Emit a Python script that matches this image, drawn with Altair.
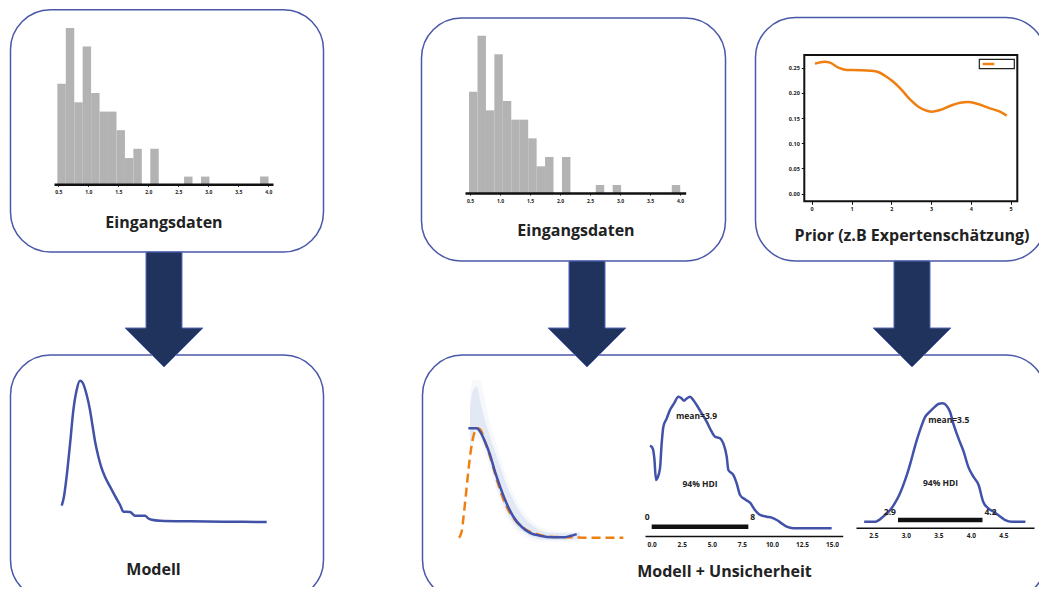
import altair as alt
import pandas as pd

# ---------------- data ----------------
# histogram of the input data (same data in both "Eingangsdaten" boxes)
hist_bin_start = [0.484, 0.625, 0.766, 0.906, 1.047, 1.188, 1.329, 1.470, 1.610, 1.751, 2.033, 2.596, 2.878, 3.863]
hist_counts = [11, 17, 9, 15, 10, 8, 8, 6, 3, 4, 4, 1, 1, 1]
hist_bin_width = 0.1408
hist_ticks = [0.5, 1.0, 1.5, 2.0, 2.5, 3.0, 3.5, 4.0]

# prior curve
prior_x = [0.08, 0.33, 0.46, 0.67, 0.88, 1.21, 1.46, 1.67, 1.84, 2.05, 2.26, 2.47, 2.68, 2.89, 3.02,
           3.22, 3.47, 3.73, 3.93, 4.15, 4.48, 4.73, 4.90]
prior_y = [0.258, 0.262, 0.260, 0.250, 0.2455, 0.245, 0.244, 0.2415, 0.234, 0.222, 0.206, 0.187,
           0.1726, 0.1647, 0.1627, 0.166, 0.174, 0.1806, 0.182, 0.1786, 0.1694, 0.1627, 0.1548]
prior_xticks = [0, 1, 2, 3, 4, 5]
prior_yticks = [0.00, 0.05, 0.10, 0.15, 0.20, 0.25]

# model curve (left bottom)
model_x = [0.0, 0.11, 0.24, 0.41, 0.57, 0.73, 0.89, 1.02, 1.22, 1.38, 1.51, 1.63, 1.79, 1.95, 2.11,
           2.36, 2.60, 2.85, 3.01, 3.33, 3.58, 4.07, 4.23, 4.39, 4.80, 6.26, 7.89, 10.0]
model_y = [0.074, 0.112, 0.196, 0.336, 0.477, 0.561, 0.600, 0.592, 0.540, 0.477, 0.407, 0.343, 0.280,
           0.231, 0.196, 0.154, 0.115, 0.077, 0.049, 0.048, 0.032, 0.032, 0.020, 0.015, 0.011, 0.0084,
           0.007, 0.0056]

# model + uncertainty
obs_x = [0, 0.16, 0.30, 0.47, 0.67, 0.87, 1.12, 1.28, 1.58, 1.89, 2.19, 2.50, 2.90, 3.41, 4.02, 4.73,
         5.54, 6.96, 7.97, 10.0]
obs_y = [0, 0.033, 0.134, 0.280, 0.445, 0.554, 0.600, 0.595, 0.527, 0.445, 0.353, 0.262, 0.170, 0.097,
         0.048, 0.020, 0.0055, 0.002, 0.0, 0.0]
fit_x = [0.57, 1.08, 1.28, 1.58, 1.89, 2.19, 2.50, 2.90, 3.31, 3.81, 4.32, 4.93, 5.74, 6.35, 6.76, 7.16]
fit_y = [0.600, 0.600, 0.582, 0.527, 0.454, 0.362, 0.280, 0.188, 0.115, 0.060, 0.027, 0.011, 0.002,
         0.002, 0.009, 0.020]
band_x = [0.67, 0.87, 1.08, 1.28, 1.58, 1.89, 2.19, 2.50, 2.90, 3.41, 4.02, 4.73, 5.54, 6.55, 7.36]
band_in_hi = [0.719, 0.810, 0.829, 0.755, 0.646, 0.554, 0.472, 0.390, 0.289, 0.188, 0.106, 0.051, 0.027, 0.024, 0.027]
band_in_lo = [0.499, 0.573, 0.591, 0.563, 0.499, 0.417, 0.326, 0.234, 0.143, 0.070, 0.024, -0.004, -0.013, -0.013, -0.002]
band_out_hi = [0.792, 0.865, 0.865, 0.865, 0.755, 0.627, 0.536, 0.444, 0.335, 0.225, 0.134, 0.070, 0.042, 0.033, 0.033]
band_out_lo = [0.445, 0.518, 0.545, 0.527, 0.472, 0.380, 0.289, 0.198, 0.115, 0.042, 0.005, -0.022, -0.022, -0.022, -0.022]

# posterior 1
post1_x = [-0.14, 0.08, 0.22, 0.36, 0.47, 0.69, 0.83, 0.97, 1.25, 1.52, 1.86, 2.22, 2.49, 2.69, 2.91,
           3.19, 3.46, 3.74, 4.16, 4.57, 4.99, 5.27, 5.68, 5.96, 6.24, 6.38, 6.79, 7.07, 7.35, 7.76,
           8.18, 8.59, 9.01, 9.57, 9.98, 10.40, 10.81, 11.23, 11.78, 13.72, 14.97]
post1_y = [0.0816, 0.0790, 0.0691, 0.0477, 0.0494, 0.0592, 0.0839, 0.1004, 0.1086, 0.1168, 0.1234,
           0.1300, 0.1283, 0.1260, 0.1283, 0.1300, 0.1267, 0.1218, 0.1135, 0.1053, 0.0954, 0.0905,
           0.0889, 0.0839, 0.0708, 0.0576, 0.0527, 0.0444, 0.0329, 0.0286, 0.0253, 0.0181, 0.0132,
           0.0115, 0.0105, 0.0082, 0.0049, 0.0016, 0.0, 0.0, 0.0]
post1_ticks = [0.0, 2.5, 5.0, 7.5, 10.0, 12.5, 15.0]
post1_hdi = [0.0, 8.04]
post1_hdi_labels = ["0", "8"]
post1_mean_label = "mean=3.9"

# posterior 2
post2_x = [2.36, 2.53, 2.65, 2.76, 2.83, 2.91, 2.99, 3.07, 3.14, 3.22, 3.30, 3.37, 3.45, 3.50, 3.57,
           3.63, 3.68, 3.73, 3.81, 3.89, 3.96, 4.04, 4.12, 4.19, 4.27, 4.35, 4.42, 4.53, 4.63, 4.84]
post2_y = [0.0, 0.0, 0.051, 0.118, 0.186, 0.287, 0.423, 0.592, 0.761, 0.930, 1.065, 1.115, 1.166,
           1.193, 1.200, 1.173, 1.115, 0.997, 0.845, 0.710, 0.558, 0.456, 0.372, 0.203, 0.135, 0.101,
           0.068, 0.017, 0.0, 0.0]
post2_ticks = [2.5, 3.0, 3.5, 4.0, 4.5]
post2_hdi = [2.88, 4.18]
post2_hdi_labels = ["2.9", "4.2"]
post2_mean_label = "mean=3.5"

titles = ["Eingangsdaten", "Eingangsdaten", "Prior (z.B Expertenschätzung)", "Modell",
          "Modell + Unsicherheit"]

# ---------------- layout / style ----------------
M = 8            # page margin
W, H = 1031, 579  # drawing area
FONT = "Open Sans"
BLUE = "#4152a8"
ORANGE = "#f07f12"
NAVY = "#1f335c"
BOXC = "#4a58a8"
GRAY = "#b3b3b3"
TXT = "#222222"


def sc(dom, page):
    return alt.Scale(domain=dom, range=[page[0] - M, page[1] - M], nice=False, zero=False)


def off_bottom(page_y):
    return (page_y - M) - H


def off_left(page_x):
    return -(page_x - M)


# ---- canvas: boxes, arrows, titles ----
cx = alt.Scale(domain=[0, 1047], range=[-M, 1047 - M], nice=False, zero=False)
cy = alt.Scale(domain=[0, 595], range=[-M, 595 - M], nice=False, zero=False)

boxes = pd.DataFrame({
    "x0": [10.5, 421.5, 755.5, 10.5, 422.5],
    "x1": [323.5, 725.5, 1046.0, 323.5, 1046.0],
    "y0": [9.7, 18.0, 17.5, 355.0, 355.0],
    "y1": [252.0, 261.0, 261.0, 600.0, 600.0],
})
box_layer = alt.Chart(boxes).mark_rect(
    cornerRadius=40, fill="white", stroke=BOXC, strokeWidth=1.5
).encode(
    x=alt.X("x0:Q", scale=cx, axis=None), x2="x1:Q",
    y=alt.Y("y0:Q", scale=cy, axis=None), y2="y1:Q",
)

arrow1_shape = "M-0.313,-1 L0.313,-1 L0.313,0.322 L0.678,0.322 L0,1 L-0.678,0.322 L-0.313,0.322 Z"
arrow2_shape = "M-0.34,-1 L0.34,-1 L0.34,0.264 L0.736,0.264 L0,1 L-0.736,0.264 L-0.34,0.264 Z"
arrow_a = alt.Chart(pd.DataFrame({"x": [164.0], "y": [309.5]})).mark_point(
    shape=arrow1_shape, size=115 * 115, filled=True, fill=NAVY, stroke="#5b6bbf", strokeWidth=1, opacity=1
).encode(x=alt.X("x:Q", scale=cx, axis=None), y=alt.Y("y:Q", scale=cy, axis=None))
arrow_b = alt.Chart(pd.DataFrame({"x": [587.0, 912.0], "y": [314.0, 314.0]})).mark_point(
    shape=arrow2_shape, size=106 * 106, filled=True, fill=NAVY, stroke="#5b6bbf", strokeWidth=1, opacity=1
).encode(x=alt.X("x:Q", scale=cx, axis=None), y=alt.Y("y:Q", scale=cy, axis=None))

title_df = pd.DataFrame({"t": titles, "x": [164.0, 576.0, 912.0, 153.5, 724.5],
                         "y": [227.5, 236.0, 241.0, 575.0, 576.5]})
title_layer = alt.Chart(title_df).mark_text(
    font=FONT, fontSize=16, fontWeight="bold", color=TXT, align="center", baseline="alphabetic"
).encode(x=alt.X("x:Q", scale=cx, axis=None), y=alt.Y("y:Q", scale=cy, axis=None), text="t:N")

# legend box of the prior plot (empty label)
leg_box = alt.Chart(pd.DataFrame({"x0": [979.3], "x1": [1014.3], "y0": [59.3], "y1": [68.7]})).mark_rect(
    fill="white", stroke="#222222", strokeWidth=1.2
).encode(x=alt.X("x0:Q", scale=cx, axis=None), x2="x1:Q", y=alt.Y("y0:Q", scale=cy, axis=None), y2="y1:Q")
leg_line = alt.Chart(pd.DataFrame({"x0": [982.7], "x1": [994.3], "y": [64.0]})).mark_rule(
    color=ORANGE, strokeWidth=2.5
).encode(x=alt.X("x0:Q", scale=cx, axis=None), x2="x1:Q", y=alt.Y("y:Q", scale=cy, axis=None))

canvas = alt.layer(box_layer, arrow_a, arrow_b, title_layer)

# ---- histograms ----
hist_df = pd.DataFrame({"start": hist_bin_start, "count": hist_counts})


def hist_panel(xpage, ypage, axis_y):
    xs = sc([hist_ticks[0] - (xpage[2] - xpage[0]) / 60.0,
             hist_ticks[-1] + (xpage[1] - xpage[3]) / 60.0], (xpage[0], xpage[1]))
    ys = sc([0, 17], ypage)
    ax = alt.Axis(values=hist_ticks, format=".1f", orient="bottom", offset=off_bottom(axis_y), zindex=2,
                  domainColor="#111111", domainWidth=2.5, tickColor="#111111", tickSize=2,
                  labelFontSize=5, labelFont=FONT, labelFontWeight="bold", labelColor=TXT,
                  labelPadding=3, grid=False, title=None)
    return alt.Chart(hist_df).transform_calculate(
        end=f"datum.start + {hist_bin_width}"
    ).mark_rect(color=GRAY).encode(
        x=alt.X("start:Q", scale=xs, axis=ax), x2="end:Q",
        y=alt.Y("count:Q", scale=ys, axis=None), y2=alt.datum(0),
    )


# xpage = (axis start, axis end, tick 0.5 pos, tick 4.0 pos)
hist1 = hist_panel((54.0, 273.0, 58.3, 268.3), (185.9, 28.0), 184.3)
hist2 = hist_panel((465.0, 685.7, 470.0, 680.0), (194.3, 35.7), 193.0)

# ---- prior ----
PX = [-0.186, 5.166]
PY = [-0.0151, 0.2752]
pxs = sc(PX, (804.3, 1017.3))
pys = sc(PY, (201.3, 55.0))
prior_ax_x = alt.Axis(values=prior_xticks, format="d", orient="bottom", offset=off_bottom(201.3), zindex=2,
                      domain=False, tickColor="#111111", tickSize=3, labelFontSize=5.5, labelFont=FONT,
                      labelFontWeight="bold", labelColor=TXT, labelPadding=2, grid=False, title=None)
prior_ax_y = alt.Axis(values=prior_yticks, format=".2f", orient="left", offset=off_left(804.3), zindex=2,
                      domain=False, tickColor="#111111", tickSize=3, labelFontSize=5.5, labelFont=FONT,
                      labelFontWeight="bold", labelColor=TXT, labelPadding=2, grid=False, title=None)
prior_line = alt.Chart(pd.DataFrame({"x": prior_x, "y": prior_y})).mark_line(
    color=ORANGE, strokeWidth=2.5, interpolate="monotone"
).encode(x=alt.X("x:Q", scale=pxs, axis=prior_ax_x), y=alt.Y("y:Q", scale=pys, axis=prior_ax_y))
prior_frame = alt.Chart(pd.DataFrame({"x0": [PX[0]], "x1": [PX[1]], "y0": [PY[0]], "y1": [PY[1]]})).mark_rect(
    fill=None, stroke="#111111", strokeWidth=2
).encode(x=alt.X("x0:Q", scale=pxs, axis=prior_ax_x), x2="x1:Q",
         y=alt.Y("y0:Q", scale=pys, axis=prior_ax_y), y2="y1:Q")
prior = alt.layer(prior_frame, prior_line)

# ---- model ----
mxs = sc([0, 10], (61.7, 266.7))
mys = sc([0, 0.6], (523.3, 380.7))
model = alt.Chart(pd.DataFrame({"x": model_x, "y": model_y})).mark_line(
    color=BLUE, strokeWidth=2.5, interpolate="monotone"
).encode(x=alt.X("x:Q", scale=mxs, axis=None), y=alt.Y("y:Q", scale=mys, axis=None))

# ---- model + uncertainty ----
uxs = sc([0, 10], (459.0, 623.3))
uys = sc([0, 0.6], (537.7, 428.3))
band_df = pd.DataFrame({"x": band_x, "ihi": band_in_hi, "ilo": band_in_lo, "ohi": band_out_hi, "olo": band_out_lo})
band_out = alt.Chart(band_df).mark_area(color="#8fa6d9", opacity=0.08, interpolate="monotone").encode(
    x=alt.X("x:Q", scale=uxs, axis=None), y=alt.Y("ohi:Q", scale=uys, axis=None), y2="olo:Q")
band_in = alt.Chart(band_df).mark_area(color="#7f9ad6", opacity=0.16, interpolate="monotone").encode(
    x=alt.X("x:Q", scale=uxs, axis=None), y=alt.Y("ihi:Q", scale=uys, axis=None), y2="ilo:Q")
obs_line = alt.Chart(pd.DataFrame({"x": obs_x, "y": obs_y})).mark_line(
    color=ORANGE, strokeWidth=2.5, strokeDash=[9, 5], interpolate="monotone"
).encode(x=alt.X("x:Q", scale=uxs, axis=None), y=alt.Y("y:Q", scale=uys, axis=None))
fit_line = alt.Chart(pd.DataFrame({"x": fit_x, "y": fit_y})).mark_line(
    color=BLUE, strokeWidth=2.5, interpolate="monotone"
).encode(x=alt.X("x:Q", scale=uxs, axis=None), y=alt.Y("y:Q", scale=uys, axis=None))
unc = alt.layer(band_out, band_in, obs_line, fit_line)


# ---- posteriors ----
def post_panel(xdom, ydom, xpage, ypage, axis_y, ticks, xs_, ys_, hdi, hdi_labels, hdi_y, lab_y,
               mean_label, mean_xy, hdi_txt_xy):
    xs = sc(xdom, xpage)
    ys = sc(ydom, ypage)
    ax = alt.Axis(values=ticks, format=".1f", orient="bottom", offset=off_bottom(axis_y), zindex=2,
                  domainColor="#111111", domainWidth=1.5, tickSize=0, labelFontSize=6.5, labelFont=FONT,
                  labelFontWeight="bold", labelColor=TXT, labelPadding=5, grid=False, title=None)
    curve = alt.Chart(pd.DataFrame({"x": xs_, "y": ys_})).mark_line(
        color=BLUE, strokeWidth=2.5, interpolate="monotone"
    ).encode(x=alt.X("x:Q", scale=xs, axis=ax), y=alt.Y("y:Q", scale=ys, axis=None))
    bar = alt.Chart(pd.DataFrame({"x0": [hdi[0]], "x1": [hdi[1]], "y": [hdi_y]})).mark_rule(
        color="#111111", strokeWidth=4.5
    ).encode(x=alt.X("x0:Q", scale=xs, axis=ax), x2="x1:Q", y=alt.Y("y:Q", scale=ys, axis=None))
    lo_lab = alt.Chart(pd.DataFrame({"x": [hdi[0]], "y": [lab_y], "t": [hdi_labels[0]]})).mark_text(
        font=FONT, fontSize=8.5, fontWeight="bold", color=TXT, align="right", dx=-2, baseline="middle"
    ).encode(x=alt.X("x:Q", scale=xs, axis=ax), y=alt.Y("y:Q", scale=ys, axis=None), text="t:N")
    hi_lab = alt.Chart(pd.DataFrame({"x": [hdi[1]], "y": [lab_y], "t": [hdi_labels[1]]})).mark_text(
        font=FONT, fontSize=8.5, fontWeight="bold", color=TXT, align="left", dx=2, baseline="middle"
    ).encode(x=alt.X("x:Q", scale=xs, axis=ax), y=alt.Y("y:Q", scale=ys, axis=None), text="t:N")
    txt = alt.Chart(pd.DataFrame({"x": [mean_xy[0], hdi_txt_xy[0]], "y": [mean_xy[1], hdi_txt_xy[1]],
                                  "t": [mean_label, "94% HDI"]})).mark_text(
        font=FONT, fontSize=8.5, fontWeight="bold", color=TXT, align="center", baseline="middle"
    ).encode(x=alt.X("x:Q", scale=xs, axis=ax), y=alt.Y("y:Q", scale=ys, axis=None), text="t:N")
    return alt.layer(curve, bar, lo_lab, hi_lab, txt)


post1 = post_panel([-0.557, 15.89], [0, 0.13], (645.0, 842.7), (528.3, 396.7), 536.0, post1_ticks,
                   post1_x, post1_y, post1_hdi, post1_hdi_labels, 0.0016, 0.0115,
                   post1_mean_label, (3.73, 0.1112), (4.02, 0.0438))
post2 = post_panel([2.234, 4.972], [0, 1.2], (856.0, 1034.0), (521.7, 403.3), 527.7, post2_ticks,
                   post2_x, post2_y, post2_hdi, post2_hdi_labels, 0.017, 0.101,
                   post2_mean_label, (3.66, 1.031), (3.534, 0.395))

legend_part = alt.layer(leg_box, leg_line)

chart = alt.layer(
    canvas, hist1, hist2, prior, legend_part, model, unc, post1, post2
).resolve_scale(x="independent", y="independent").resolve_axis(x="independent", y="independent").properties(
    width=W, height=H, padding=0, autosize=alt.AutoSizeParams(type="none"), background="white"
).configure_view(strokeWidth=0)

chart.save("out.html", embed_options={"renderer": "svg", "actions": False})
